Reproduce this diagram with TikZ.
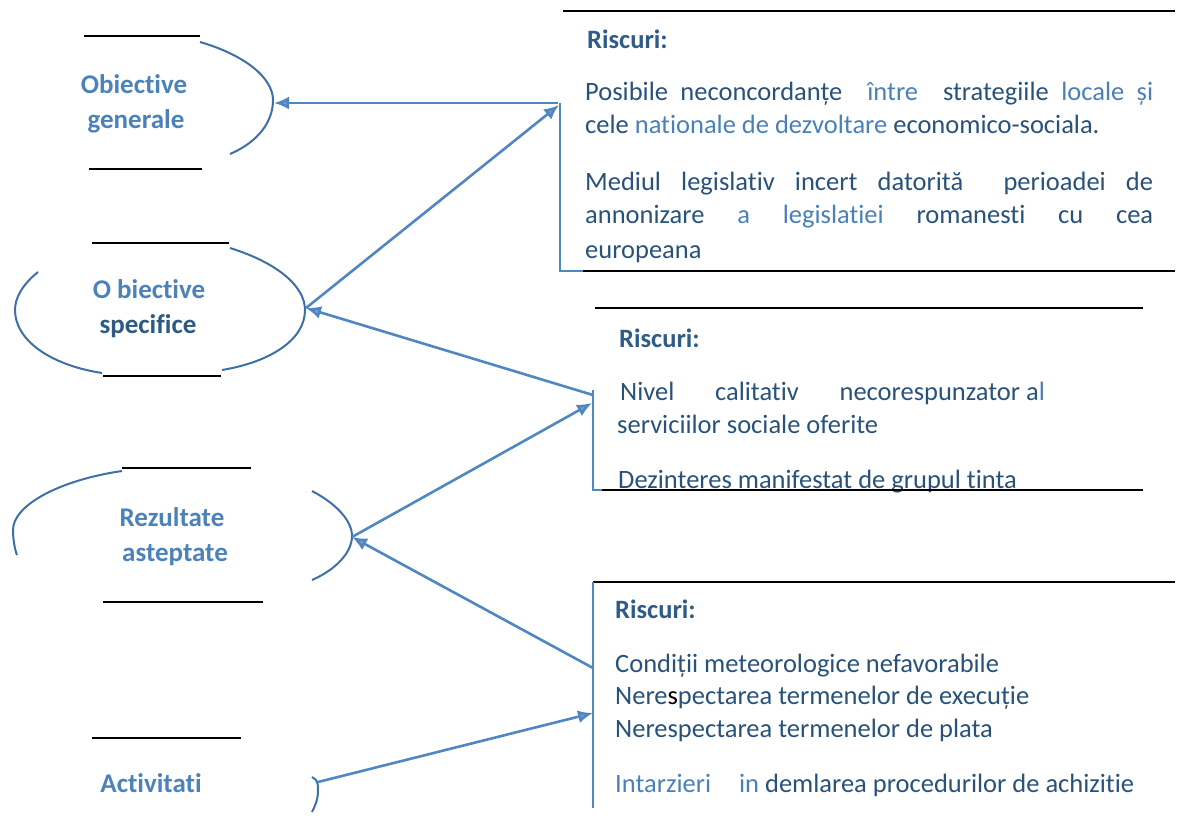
\documentclass[tikz,border=0pt]{standalone}
\usepackage{fontspec}
\setmainfont{Carlito}[Ligatures=NoCommon]
\usetikzlibrary{arrows.meta}
\definecolor{arcc}{RGB}{62,112,168}
\definecolor{arr}{RGB}{80,135,192}
\definecolor{arrhead}{RGB}{110,160,210}
\definecolor{tdark}{RGB}{40,82,122}
\definecolor{tlight}{RGB}{72,128,185}
\definecolor{lab}{RGB}{75,130,185}
\definecolor{labdark}{RGB}{45,90,130}
\tikzset{
 rule/.style={line width=2.2pt, black},
 edgearc/.style={arcc, line width=2pt},
 boxside/.style={arr, line width=1.8pt},
 link/.style={arr, line width=2.6pt, -{Latex[length=15pt,width=13pt,fill=arrhead]}},
 body/.style={anchor=base west, inner sep=0pt, text=tdark, font=\fontsize{26.5}{30}\selectfont},
 head/.style={anchor=base west, inner sep=0pt, text=tdark!80!tlight, font=\fontsize{26.5}{30}\selectfont\bfseries},
 lbl/.style={anchor=base, inner sep=0pt, text=lab, font=\fontsize{27}{30}\selectfont\bfseries},
}
\begin{document}
\begin{tikzpicture}[x=1pt,y=-1pt]
\useasboundingbox (0,0) rectangle (1191,815);
% left labels
\node[lbl] (og1) at (134,93) {Obiective};
\node[lbl] (og2) at (136,128) {generale};
\node[lbl] (os1) at (149,298) {O biective};
\node[lbl, text=labdark] (os2) at (148,333) {specifice};
\node[lbl] (rz1) at (172,526) {Rezultate};
\node[lbl] (rz2) at (175,561) {asteptate};
\node[lbl] (ac) at (151,792) {Activitati};
% rules near labels
\draw[rule] (84,36) -- (200,36);
\draw[rule] (89,169) -- (202,169);
\draw[rule] (92,243) -- (229,243);
\draw[rule] (103,376) -- (221,376);
\draw[rule] (122,468) -- (251,468);
\draw[rule] (103,602) -- (263,602);
\draw[rule] (92,738) -- (241,738);
% arcs
\draw[edgearc] (200,42) .. controls (245,55) and (273,78) .. (273,100) .. controls (273,122) and (258,142) .. (230,154);
\draw[edgearc] (230,248) .. controls (275,262) and (305,285) .. (305,310) .. controls (305,340) and (270,362) .. (222,370);
\draw[edgearc] (38,272) .. controls (22,285) and (15,298) .. (15,310) .. controls (15,340) and (50,365) .. (102,373);
\draw[edgearc] (122,471) .. controls (60,480) and (13,505) .. (13,530) .. controls (13,540) and (15,550) .. (17,555);
\draw[edgearc] (312,491) .. controls (335,503) and (352,520) .. (352,536) .. controls (352,553) and (335,570) .. (312,580);
\draw[edgearc] (312,777) .. controls (318,780) and (318,784) .. (318,790) .. controls (318,800) and (315,806) .. (312,812);
% box 1
\node[head] (r1) at (587,48) {Riscuri:};
\node[body] (p1) at (585,100) {\makebox[568pt][s]{Posibile neconcordanțe\ \ \textcolor{tlight}{între}\ \ strategiile \textcolor{tlight}{locale și}}};
\node[body] (p2) at (585,133) {cele \textcolor{tlight}{nationale de dezvoltare} economico-sociala.};
\node[body] (p3) at (585,190) {\makebox[568pt][s]{Mediul legislativ incert datorită\ \ perioadei de}};
\node[body] (p4) at (585,223) {\makebox[568pt][s]{annonizare \textcolor{tlight}{a} \textcolor{tlight}{legislatiei} romanesti cu cea}};
\node[body] (p5) at (585,258) {europeana};
\draw[rule] (563,11) -- (1175,11);
\draw[boxside] (560,103) -- (560,271) -- (583,271);
\draw[rule] (583,271) -- (1175,271);
% box 2
\node[head] (r2) at (619,347) {Riscuri:};
\node[body] (q1) at (620,400) {\makebox[400pt][s]{Nivel calitativ necorespunzator} a\textcolor{tlight}{l}};
\node[body] (q2) at (617,433) {serviciilor sociale oferite};
\node[body] (q3) at (618,488) {Dezinteres manifestat de grupul tinta};
\draw[rule] (595,308) -- (1143,308);
\draw[boxside] (593,390) -- (593,490) -- (602,490);
\draw[rule] (602,490) -- (1143,490);
% box 3
\node[head] (r3) at (615,618) {Riscuri:};
\node[body] (s1) at (615,672) {Condiții meteorologice nefavorabile};
\node[body] (s2) at (615,704) {Nere\textcolor{black}{s}pectarea termenelor de execuție};
\node[body] (s3) at (615,737) {Nerespectarea termenelor de plata};
\node[body] (s4) at (615,792) {\textcolor{tlight}{Intarzieri\hspace{22pt} in} demlarea procedurilor de achizitie};
\draw[rule] (593,582) -- (1175,582);
\draw[boxside] (593,582) -- (593,808);
% connector ends
\coordinate (genR) at (274,103);
\coordinate (b1L) at (558,103);
\coordinate (speR) at (306,308);
\coordinate (b1A) at (559,105);
\coordinate (b2L) at (593,395);
\coordinate (b2A) at (592,403);
\coordinate (rezR) at (352,537);
\coordinate (b3L) at (593,668);
\coordinate (b3A) at (593,713);
\coordinate (actR) at (318,782);
% connectors
\draw[link] (b1L) -- (genR);
\draw[link] (speR) -- (b1A);
\draw[link] (b2L) -- (speR);
\draw[link] (rezR) -- (b2A);
\draw[link] (b3L) -- (rezR);
\draw[link] (actR) -- (b3A);
\end{tikzpicture}
\end{document}
